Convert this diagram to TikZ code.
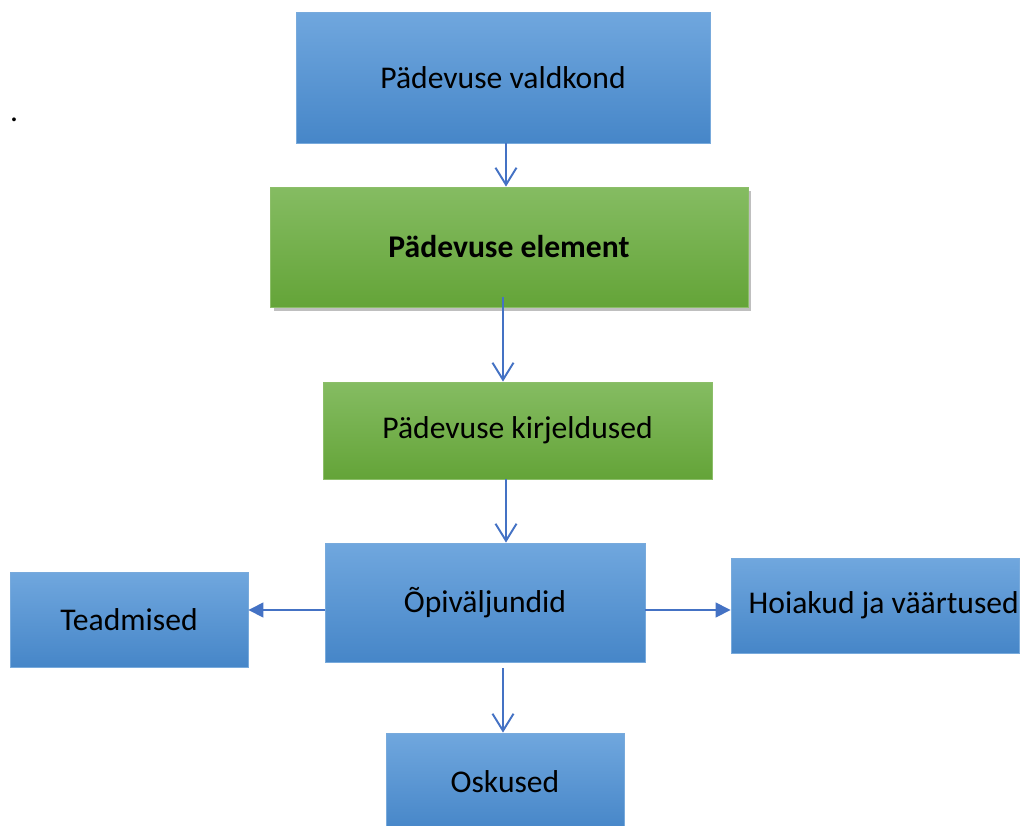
\documentclass[tikz,border=0pt]{standalone}
\usepackage{fontspec}
\setmainfont{Carlito}
\usepackage{tikz}
\usetikzlibrary{shadows}
\usetikzlibrary{arrows.meta}
\definecolor{bluetop}{RGB}{112,167,222}
\definecolor{bluebot}{RGB}{70,134,200}
\definecolor{blueedge}{RGB}{120,170,220}
\definecolor{greentop}{RGB}{133,188,98}
\definecolor{greenbot}{RGB}{100,164,56}
\definecolor{greenedge}{RGB}{140,190,105}
\definecolor{arrowblue}{RGB}{68,114,196}

\begin{document}
\begin{tikzpicture}[x=0.02cm,y=-0.02cm,
bluenode/.style={rectangle, draw=blueedge, line width=0.5pt, top color=bluetop, bottom color=bluebot,
inner sep=0pt, font=\fontsize{18}{21}\selectfont,
},
greennode/.style={rectangle, draw=greenedge, line width=0.5pt, top color=greentop, bottom color=greenbot,
inner sep=0pt, font=\fontsize{18}{21}\selectfont,
},
downarrow/.style={draw=arrowblue, line width=1.1pt, -{Straight Barb[length=3.4mm,width=4.2mm]}},
sidearrow/.style={draw=arrowblue, line width=0.7pt, -{Triangle[length=3mm,width=3mm]}}]
\useasboundingbox (0,0) rectangle (1021,825);
%Nodes
\node (dot) [anchor=base, font=\fontsize{18}{21}\selectfont] at (14,121) {.};
\node[bluenode]   (valdkond)  [minimum width=8.28cm, minimum height=2.62cm] at (503,77.5) {Pädevuse valdkond};
\node[greennode]  (element)   [minimum width=9.56cm, minimum height=2.40cm,
  drop shadow={opacity=.5,shadow xshift=2pt,shadow yshift=-2.5pt}] at (509,247) {\bfseries Pädevuse element};
\node[greennode]  (kirjeldus) [minimum width=7.78cm, minimum height=1.94cm] at (517.5,430.5) {\raisebox{-0.07cm}{Pädevuse kirjeldused}};
\node[bluenode]   (opiv)      [minimum width=6.40cm, minimum height=2.38cm] at (485,602.5) {\raisebox{-0.04cm}{Õpiväljundid}};
\node[bluenode]   (teadmised) [minimum width=4.76cm, minimum height=1.90cm] at (129,619.5) {\raisebox{-0.04cm}{Teadmised}};
\node[bluenode]   (hoiakud)   [minimum width=5.76cm, minimum height=1.90cm] at (875,605.5) {\hspace*{0.35cm}Hoiakud ja väärtused};
\node[bluenode]   (oskused)   [minimum width=4.76cm, minimum height=1.96cm] at (505,782) {Oskused};

%Lines
\draw[downarrow] ([xshift=0.06cm]valdkond.south) -- ([xshift=0.06cm]valdkond.south |- element.north);
\draw[downarrow] ([xshift=-0.12cm,yshift=0.2cm]element.south) -- ([xshift=-0.12cm]element.south |- kirjeldus.north);
\draw[downarrow] ([xshift=-0.23cm]kirjeldus.south) -- ([xshift=-0.23cm]kirjeldus.south |- opiv.north);
\draw[downarrow, shorten <=0.12cm] ([xshift=0.36cm]opiv.south) -- ([xshift=0.36cm]opiv.south |- oskused.north);
\draw[sidearrow] ([yshift=-0.15cm]opiv.west) -- ([yshift=-0.15cm]opiv.west -| teadmised.east);
\draw[sidearrow] ([yshift=-0.15cm]opiv.east) -- ([yshift=-0.15cm]opiv.east -| hoiakud.west);
\end{tikzpicture}
\end{document}
